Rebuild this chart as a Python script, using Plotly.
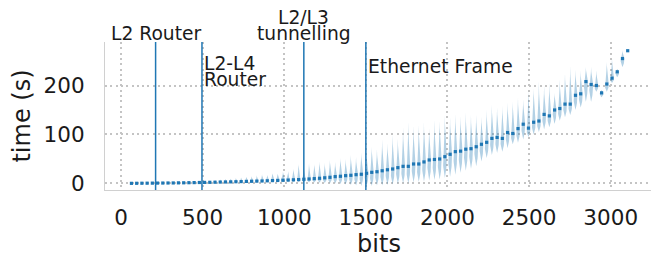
import numpy as np
import plotly.graph_objects as go

# ---------------- data ----------------
bits = [64 + 32 * k for k in range(96)]

median_time = [
    0.3, 0.4, 0.5, 0.6, 0.7, 0.8, 0.9, 1.0, 1.1, 1.3,
    1.4, 1.6, 1.8, 2.0, 2.2, 2.4, 2.6, 2.9, 3.1, 3.3,
    3.6, 3.9, 4.2, 4.5, 4.8, 5.1, 5.5, 5.9, 6.2, 6.6,
    7.0, 7.5, 8.0, 8.6, 9.2, 9.9, 10.6, 11.6,
    12.6, 14, 14.7, 16, 16.7, 18, 18.8, 20.8, 22.8, 24,
    26, 28, 29.6, 32.3, 35, 35, 39.8, 39.8, 44, 48,
    49, 50, 54.7, 59.6, 65, 66, 70, 71, 75, 80,
    84, 92, 94, 92, 104, 102, 112, 121, 113, 125,
    127.5, 141, 138, 150, 153, 162, 162, 180, 183, 208,
    202, 200, 185, 203, 215, 228, 255, 271,
]

low_time = [
    0.0, 0.1, 0.2, 0.3, 0.4, 0.5, 0.6, 0.7, 0.8, 0.9,
    1.0, 1.1, 1.3, 1.4,
    1.5, 1.6, 1.7, 1.8, 1.9, 2.0, 2.0, 2.1, 2.2, 2.2, 2.3, 2.4, 2.4, 2.5, 2.5, 2.6,
    2.6, 2.5, 2.4, 2.2, 2.0, 1.8, 1.5, 1.0,
    0.5, 0, -1, -2, -3, -4, -5, -5,
    -5, -4, -4, -3, -2, -1, 0, 0,
    2, 3, 4, 6, 7, 8, 11, 14,
    18, 22, 26, 30, 35, 45, 52, 58,
    62, 65, 72, 80, 83, 90, 95, 100,
    105, 110, 115, 122, 128, 135, 140, 150,
    155, 167, 167, 187, 176, 187, 205, 217, 238, 271,
]

high_time = [
    0.8, 1.0, 1.2, 1.4, 1.6, 1.8, 2.0, 2.3, 2.6, 3.0,
    3.4, 3.8, 4.3, 4.8,
    5, 6, 7, 8, 9, 10, 11, 12, 14, 15, 17, 19, 18, 21, 20, 24,
    25, 30, 40, 35, 42, 40, 45, 42,
    48, 44, 52, 50, 58, 54, 64, 62,
    75, 70, 90, 82, 100, 92, 115, 126,
    118, 120, 125, 112, 130, 128, 140, 135,
    142, 138, 145, 140, 140, 136, 150, 160,
    155, 158, 165, 167, 175, 172, 190, 195,
    208, 200, 205, 185, 212, 225, 240, 232,
    230, 238, 238, 231, 191, 248, 256, 234, 272, 271,
]

marker_bits = [212, 496, 1120, 1500]
# label lines: (text, which marker, baseline in data units, anchor)
label_lines = [
    ("L2 Router", 0, 301, "center"),
    ("L2-L4", 1, 238, "left"),
    ("Router", 1, 206, "left"),
    ("L2/L3", 2, 332, "center"),
    ("tunnelling", 2, 301, "center"),
    ("Ethernet Frame", 3, 233, "left"),
]

x_ticks = [0, 500, 1000, 1500, 2000, 2500, 3000]
y_ticks = [0, 100, 200]
x_range = [-98, 3259]
y_range = [-13.3, 288.8]

BLUE = "#1f77b4"
FONT = "DejaVu Sans"
TXT = "#1a1a1a"
LABEL_SIZE = 18.7

# ---------------- violin outlines built from data ----------------
half_width = 12.5
vx, vy = [], []
for b, m, lo, hi in zip(bits, median_time, low_time, high_time):
    if hi - lo < 0.5:
        continue
    ys = np.linspace(lo, hi, 40)
    w = []
    for y in ys:
        if y <= m:
            s = (y - lo) / max(m - lo, 1e-6)
            f = np.sin(np.pi / 2 * s) ** 0.8
        else:
            s = (y - m) / max(hi - m, 1e-6)
            f = (1 - s) ** 1.8
        w.append(half_width * f)
    w = np.array(w)
    xs = list(b + w) + list((b - w)[::-1])
    yy = list(ys) + list(ys[::-1])
    vx += xs + [xs[0], None]
    vy += yy + [yy[0], None]

fig = go.Figure()
fig.add_trace(go.Scatter(
    x=vx, y=vy, mode="lines", fill="toself",
    fillcolor="rgba(31,119,180,0.34)", line=dict(width=0),
    hoverinfo="skip", showlegend=False,
))
fig.add_trace(go.Scatter(
    x=bits, y=median_time, mode="markers",
    marker=dict(symbol="square", size=3.2, color=BLUE),
    showlegend=False,
))

for xb in marker_bits:
    fig.add_shape(type="line", xref="x", yref="paper", x0=xb, x1=xb, y0=0, y1=1,
                  line=dict(color=BLUE, width=1.5))

for text, idx, base, anchor in label_lines:
    # baseline given in data units; convert to paper fraction (labels may sit above the axes)
    py = (base - y_range[0]) / (y_range[1] - y_range[0])
    fig.add_annotation(
        x=marker_bits[idx], y=py, xref="x", yref="paper", text=text,
        showarrow=False, xanchor=anchor, yanchor="bottom", borderpad=0,
        xshift=1 if anchor == "left" else 0, yshift=-8.5,
        font=dict(family=FONT, size=LABEL_SIZE, color=TXT),
    )

grid = dict(showgrid=True, gridcolor="#c4c4c4", gridwidth=1.6, griddash="2px,3.3px",
            zeroline=False, showline=True, linecolor="#d0d0d0", linewidth=1.2,
            ticks="", tickfont=dict(family=FONT, size=21.5, color=TXT))

fig.update_xaxes(range=x_range, tickvals=x_ticks, ticklabelstandoff=8,
                 title=dict(text="bits", font=dict(family=FONT, size=24, color=TXT), standoff=4),
                 **grid)
fig.update_yaxes(range=y_range, tickvals=y_ticks, ticklabelstandoff=15,
                 title=dict(text="time (s)", font=dict(family=FONT, size=24, color=TXT), standoff=7),
                 **grid)

fig.update_layout(
    width=651, height=253,
    margin=dict(l=97, r=6, t=34, b=71, autoexpand=False),
    plot_bgcolor="white", paper_bgcolor="white",
    font=dict(family=FONT),
)

fig.write_html("out.html")
